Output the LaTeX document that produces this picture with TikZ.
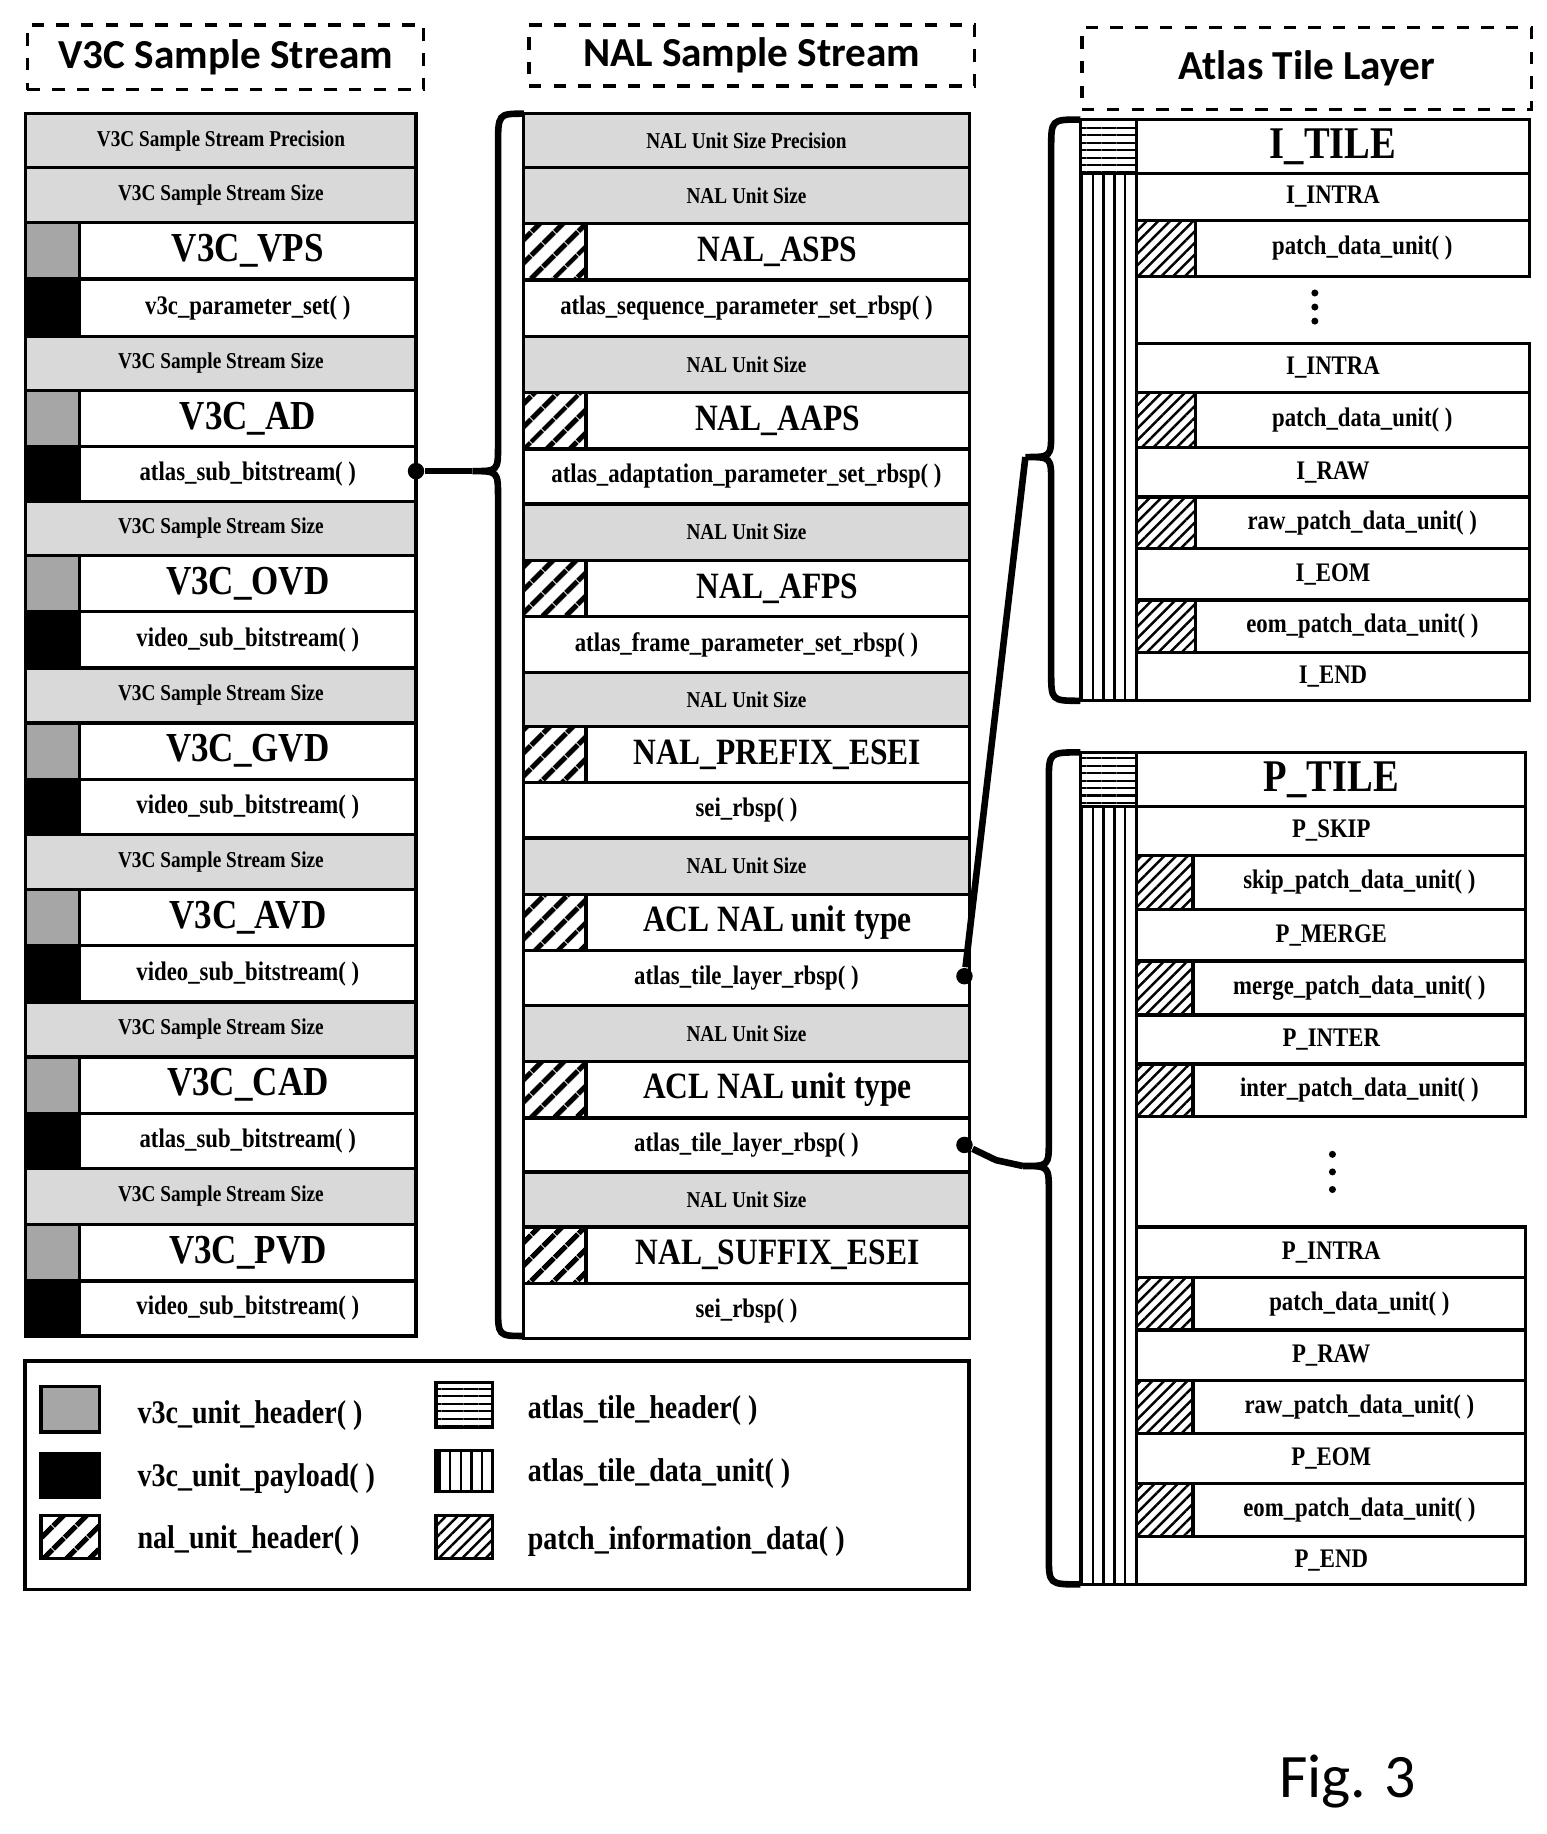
\documentclass[tikz,border=0pt]{standalone}
\usepackage{fontspec}
\setmainfont{Liberation Serif}
\newfontfamily\condfont{Liberation Serif}[FakeStretch=0.85]
\setsansfont{Carlito}
\usepackage{tikz}
\usetikzlibrary{patterns.meta}

\tikzset{
  cell/.style={draw, thick, inner sep=0pt, outer sep=0pt, anchor=north west},
  sizerow/.style={cell, fill=gray!30, font=\condfont\fontsize{5.5}{6}\selectfont\bfseries},
  typerow/.style={cell, font=\condfont\fontsize{10}{11}\selectfont\bfseries},
  datarow/.style={cell, font=\condfont\fontsize{6.5}{7}\selectfont\bfseries},
  unithead/.style={cell, fill=gray!70},
  unitload/.style={cell, fill=black},
  nalhead/.style={cell, pattern={Lines[angle=45,distance=4pt,line width=1.3pt]}},
  patchinfo/.style={cell, pattern={Lines[angle=45,distance=2pt,line width=.6pt]}},
  tilehead/.style={cell, pattern={Lines[angle=0,distance=1.8pt,line width=.5pt]}},
  tiledata/.style={cell, pattern={Lines[angle=90,distance=2.6pt,line width=.6pt]}},
  title/.style={draw, dashed, thick, anchor=north west, inner sep=0pt,
    font=\fontsize{10}{11}\selectfont\sffamily\bfseries},
  legtext/.style={anchor=west, font=\condfont\fontsize{8}{9}\selectfont\bfseries},
  joint/.style={circle, fill=black, inner sep=0pt, minimum size=4pt},
  link/.style={line width=1.6pt}
}
% box from (x1,y1) to (x2,y2), y counted downward
\newcommand\cellbox[6]{\node[#6, minimum width={(#4-#2)*0.01cm},
  minimum height={(#5-#3)*0.01cm}] (#1) at (#2,-#3) {};}
\newcommand\cellrow[7]{\node[#6, minimum width={(#4-#2)*0.01cm},
  minimum height={(#5-#3)*0.01cm}] (#1) at (#2,-#3) {#7};}

\begin{document}
\begin{tikzpicture}[x=0.01cm, y=0.01cm]
\useasboundingbox (0,0) rectangle (1320,-1565);

% column titles
\node[title, minimum width=3.38cm, minimum height=.55cm] (t1) at (22,-20) {V3C Sample Stream};
\node[title, minimum width=3.8cm, minimum height=.52cm] (t2) at (450,-20) {NAL Sample Stream};
\node[title, minimum width=3.83cm, minimum height=.70cm] (t3) at (922,-22) {Atlas Tile Layer};

% V3C sample stream
\foreach \ya/\yb/\k/\t [count=\i] in {
  97/143/g/V3C Sample Stream Precision, 143/190/g/V3C Sample Stream Size,
  190/238/h/V3C\_VPS, 238/287/p/v3c\_parameter\_set( ),
  287/333/g/V3C Sample Stream Size, 333/381/h/V3C\_AD, 381/428/p/atlas\_sub\_bitstream( ),
  428/474/g/V3C Sample Stream Size, 474/522/h/V3C\_OVD, 522/570/p/video\_sub\_bitstream( ),
  570/617/g/V3C Sample Stream Size, 617/665/h/V3C\_GVD, 665/712/p/video\_sub\_bitstream( ),
  712/759/g/V3C Sample Stream Size, 759/807/h/V3C\_AVD, 807/855/p/video\_sub\_bitstream( ),
  855/902/g/V3C Sample Stream Size, 902/950/h/V3C\_CAD, 950/997/p/atlas\_sub\_bitstream( ),
  997/1045/g/V3C Sample Stream Size, 1045/1093/h/V3C\_PVD, 1093/1140/p/video\_sub\_bitstream( )}{
  \if\k g
    \cellrow{v\i}{22}{\ya}{355}{\yb}{sizerow}{\t}
  \else\if\k h
    \cellbox{vs\i}{22}{\ya}{68}{\yb}{unithead}
    \cellrow{v\i}{68}{\ya}{355}{\yb}{typerow}{\t}
  \else
    \cellbox{vs\i}{22}{\ya}{68}{\yb}{unitload}
    \cellrow{v\i}{68}{\ya}{355}{\yb}{datarow}{\t}
  \fi\fi
}

% NAL sample stream
\foreach \ya/\yb/\k/\t [count=\i] in {
  97/143/g/NAL Unit Size Precision, 143/191/g/NAL Unit Size,
  191/239/h/NAL\_ASPS, 239/287/p/atlas\_sequence\_parameter\_set\_rbsp( ),
  287/335/g/NAL Unit Size, 335/383/h/NAL\_AAPS, 383/430/p/atlas\_adaptation\_parameter\_set\_rbsp( ),
  430/478/g/NAL Unit Size, 478/526/h/NAL\_AFPS, 526/574/p/atlas\_frame\_parameter\_set\_rbsp( ),
  574/620/g/NAL Unit Size, 620/668/h/NAL\_PREFIX\_ESEI, 668/715/p/sei\_rbsp( ),
  715/763/g/NAL Unit Size, 763/811/h/ACL NAL unit type, 811/858/p/atlas\_tile\_layer\_rbsp( ),
  858/906/g/NAL Unit Size, 906/954/h/ACL NAL unit type, 954/1000/p/atlas\_tile\_layer\_rbsp( ),
  1000/1047/g/NAL Unit Size, 1047/1095/h/NAL\_SUFFIX\_ESEI, 1095/1142/p/sei\_rbsp( )}{
  \if\k g
    \cellrow{n\i}{447}{\ya}{827}{\yb}{sizerow}{\t}
  \else\if\k h
    \cellbox{ns\i}{447}{\ya}{500}{\yb}{nalhead}
    \cellrow{n\i}{500}{\ya}{827}{\yb}{typerow, font=\condfont\fontsize{9}{10}\selectfont\bfseries}{\t}
  \else
    \cellrow{n\i}{447}{\ya}{827}{\yb}{datarow}{\t}
  \fi\fi
}

% I_TILE
\cellbox{ih}{922}{102}{970}{148}{tilehead}
\cellbox{id}{922}{148}{970}{598}{tiledata}
\cellrow{it}{970}{102}{1305}{148}{typerow, font=\condfont\fontsize{11}{12}\selectfont\bfseries}{I\_TILE}
\foreach \ya/\yb/\k/\t [count=\i] in {
  148/188/n/I\_INTRA, 188/236/d/patch\_data\_unit( ),
  293/335/n/I\_INTRA, 335/382/d/patch\_data\_unit( ),
  382/424/n/I\_RAW, 424/468/d/raw\_patch\_data\_unit( ),
  468/512/n/I\_EOM, 512/557/d/eom\_patch\_data\_unit( ), 557/598/n/I\_END}{
  \if\k n
    \cellrow{i\i}{970}{\ya}{1305}{\yb}{datarow}{\t}
  \else
    \cellbox{ip\i}{970}{\ya}{1020}{\yb}{patchinfo}
    \cellrow{i\i}{1020}{\ya}{1305}{\yb}{datarow}{\t}
  \fi
}
\foreach \y in {250,262,274} \fill (1122,-\y) circle (3);

% P_TILE
\cellbox{ph}{922}{642}{970}{688}{tilehead}
\cellbox{pd}{922}{688}{970}{1352}{tiledata}
\cellrow{pt}{970}{642}{1302}{688}{typerow, font=\condfont\fontsize{11}{12}\selectfont\bfseries}{P\_TILE}
\foreach \ya/\yb/\k/\t [count=\i] in {
  688/730/n/P\_SKIP, 730/776/d/skip\_patch\_data\_unit( ),
  776/820/n/P\_MERGE, 820/866/d/merge\_patch\_data\_unit( ),
  866/908/n/P\_INTER, 908/953/d/inter\_patch\_data\_unit( ),
  1047/1090/n/P\_INTRA, 1090/1135/d/patch\_data\_unit( ),
  1135/1178/n/P\_RAW, 1178/1223/d/raw\_patch\_data\_unit( ),
  1223/1266/n/P\_EOM, 1266/1311/d/eom\_patch\_data\_unit( ), 1311/1352/n/P\_END}{
  \if\k n
    \cellrow{p\i}{970}{\ya}{1302}{\yb}{datarow}{\t}
  \else
    \cellbox{pp\i}{970}{\ya}{1018}{\yb}{patchinfo}
    \cellrow{p\i}{1018}{\ya}{1302}{\yb}{datarow}{\t}
  \fi
}
\foreach \y in {985,1000,1015} \fill (1137,-\y) circle (3);

% braces
\draw[link] (447,-97) .. controls (425,-97) .. (425,-125) -- (425,-380)
  .. controls (425,-402) .. (403,-402) coordinate (b1)
  .. controls (425,-402) .. (425,-425) -- (425,-1115) .. controls (425,-1140) .. (447,-1140);
\draw[link] (922,-102) .. controls (897,-102) .. (897,-127) -- (897,-368)
  .. controls (897,-390) .. (875,-390) coordinate (b2)
  .. controls (897,-390) .. (897,-412) -- (897,-573) .. controls (897,-598) .. (922,-598);
\draw[link] (922,-642) .. controls (895,-642) .. (895,-667) -- (895,-973)
  .. controls (895,-995) .. (873,-995) coordinate (b3)
  .. controls (895,-995) .. (895,-1017) -- (895,-1327) .. controls (895,-1352) .. (922,-1352);

% connectors
\node[joint] (j1) at (355,-402) {};
\node[joint] (j2) at (823,-833) {};
\node[joint] (j3) at (823,-977) {};
\draw[link] (j1) -- (b1);
\draw[link] (j2) -- (b2);
\draw[link] (j3) -- (850,-990) -- (b3);

% legend
\node[draw, thick, anchor=north west, minimum width=8.05cm, minimum height=1.95cm,
  inner sep=0pt] (leg) at (20,-1160) {};
\cellbox{l1}{35}{1183}{85}{1222}{unithead}
\cellbox{l2}{35}{1240}{85}{1278}{unitload}
\cellbox{l3}{35}{1293}{85}{1330}{nalhead}
\cellbox{l4}{372}{1180}{420}{1218}{tilehead}
\cellbox{l5}{372}{1238}{420}{1273}{tiledata}
\cellbox{l6}{372}{1293}{420}{1330}{patchinfo}
\node[legtext] (lt1) at (105,-1208) {v3c\_unit\_header( )};
\node[legtext] (lt2) at (105,-1262) {v3c\_unit\_payload( )};
\node[legtext] (lt3) at (105,-1315) {nal\_unit\_header( )};
\node[legtext] (lt4) at (438,-1204) {atlas\_tile\_header( )};
\node[legtext] (lt5) at (438,-1257) {atlas\_tile\_data\_unit( )};
\node[legtext] (lt6) at (438,-1315) {patch\_information\_data( )};

\node[font=\fontsize{15}{16}\selectfont\sffamily] (fig) at (1150,-1520) {Fig. 3};
\end{tikzpicture}
\end{document}
